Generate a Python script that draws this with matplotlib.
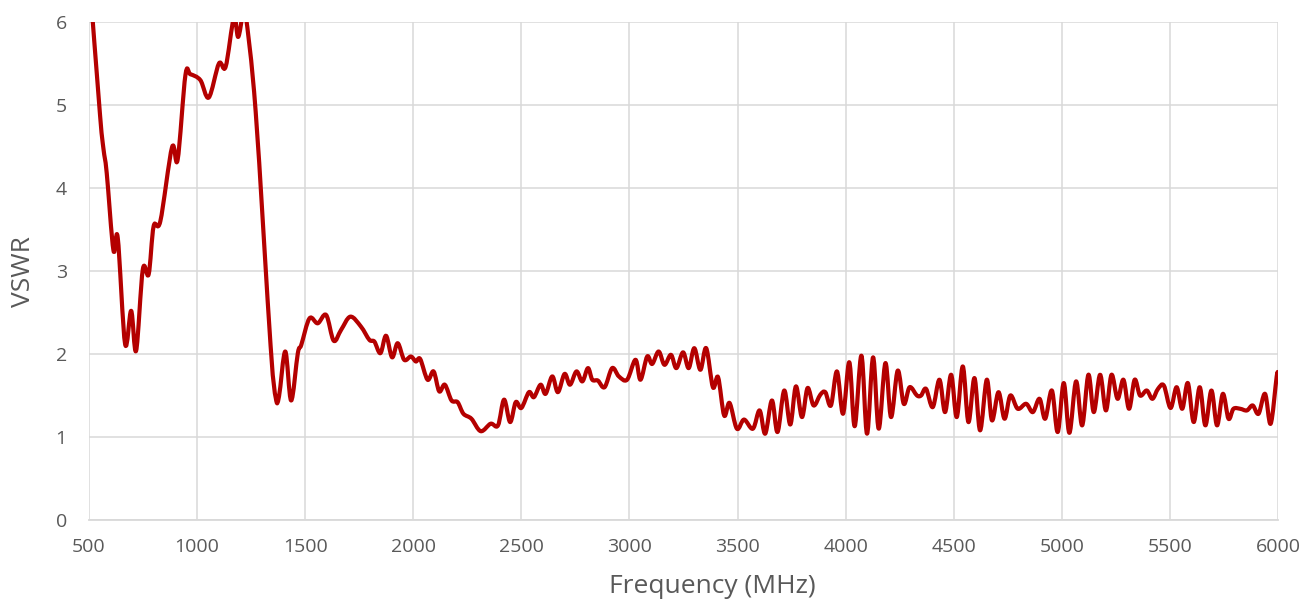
import numpy as np
import matplotlib
matplotlib.use("Agg")
import matplotlib.pyplot as plt
from matplotlib.path import Path
from matplotlib.patches import PathPatch

plt.rcParams['font.family'] = ['Open Sans', 'DejaVu Sans']

# Measured VSWR of the antenna over frequency
freq_mhz = [
    500, 551, 567, 582, 613, 633, 667, 695, 718, 749, 776, 799, 830, 884, 910,
    946, 969, 1015, 1054, 1101, 1132, 1170, 1190, 1212, 1224, 1271, 1340, 1364,
    1379, 1408, 1435, 1466, 1482, 1520, 1558, 1597, 1632, 1666, 1709, 1758,
    1797, 1820, 1848, 1874, 1902, 1928, 1958, 1989, 2012, 2032, 2066, 2094,
    2120, 2146, 2177, 2205, 2232, 2269, 2312, 2358, 2392, 2420, 2448, 2474,
    2500, 2535, 2558, 2589, 2612, 2643, 2669, 2700, 2725, 2755, 2782, 2808,
    2828, 2854, 2885, 2920, 2951, 2989, 3028, 3051, 3082, 3105, 3135, 3162,
    3192, 3217, 3248, 3274, 3300, 3328, 3355, 3386, 3410, 3438, 3463, 3497,
    3530, 3571, 3602, 3628, 3659, 3685, 3716, 3744, 3770, 3798, 3824, 3852,
    3883, 3906, 3932, 3960, 3988, 4017, 4042, 4073, 4099, 4127, 4153, 4184,
    4210, 4241, 4269, 4296, 4330, 4349, 4372, 4403, 4434, 4460, 4488, 4514,
    4542, 4568, 4596, 4622, 4653, 4677, 4707, 4735, 4762, 4796, 4835, 4866,
    4897, 4923, 4954, 4981, 5009, 5035, 5066, 5094, 5123, 5148, 5177, 5204,
    5230, 5258, 5285, 5311, 5337, 5362, 5393, 5419, 5445, 5472, 5503, 5531,
    5557, 5583, 5610, 5638, 5664, 5692, 5718, 5745, 5771, 5794, 5825, 5856,
    5883, 5910, 5940, 5966, 5994, 6000,
]
vswr = [
    6.6, 4.88, 4.47, 4.18, 3.25, 3.40, 2.12, 2.52, 2.04, 3.02, 2.96, 3.54, 3.60,
    4.49, 4.34, 5.36, 5.37, 5.30, 5.09, 5.50, 5.46, 6.05, 5.82, 6.1, 6.1, 4.92,
    2.1, 1.47, 1.49, 2.03, 1.44, 2.01, 2.11, 2.43, 2.37, 2.47, 2.16, 2.29, 2.45,
    2.33, 2.17, 2.15, 2.01, 2.22, 1.96, 2.13, 1.93, 1.97, 1.91, 1.94, 1.69,
    1.79, 1.55, 1.63, 1.44, 1.42, 1.28, 1.22, 1.07, 1.16, 1.14, 1.45, 1.18,
    1.42, 1.35, 1.54, 1.48, 1.63, 1.52, 1.73, 1.54, 1.76, 1.63, 1.79, 1.67,
    1.83, 1.69, 1.68, 1.60, 1.83, 1.73, 1.69, 1.93, 1.69, 1.97, 1.88, 2.03,
    1.87, 1.99, 1.83, 2.02, 1.83, 2.07, 1.81, 2.07, 1.60, 1.72, 1.26, 1.41,
    1.10, 1.21, 1.10, 1.32, 1.04, 1.44, 1.06, 1.56, 1.15, 1.61, 1.24, 1.59,
    1.38, 1.51, 1.54, 1.38, 1.79, 1.28, 1.90, 1.13, 1.98, 1.04, 1.96, 1.10,
    1.89, 1.24, 1.80, 1.40, 1.60, 1.50, 1.50, 1.58, 1.36, 1.69, 1.30, 1.75,
    1.24, 1.85, 1.18, 1.71, 1.08, 1.69, 1.20, 1.54, 1.22, 1.50, 1.34, 1.40,
    1.30, 1.46, 1.22, 1.56, 1.06, 1.65, 1.05, 1.67, 1.14, 1.75, 1.30, 1.75,
    1.32, 1.75, 1.46, 1.69, 1.34, 1.69, 1.50, 1.56, 1.46, 1.58, 1.62, 1.35,
    1.60, 1.34, 1.65, 1.18, 1.60, 1.14, 1.56, 1.14, 1.52, 1.22, 1.34, 1.34,
    1.32, 1.38, 1.28, 1.52, 1.16, 1.73, 1.76,
]

x_ticks = [500, 1000, 1500, 2000, 2500, 3000, 3500, 4000, 4500, 5000, 5500, 6000]
y_ticks = [0, 1, 2, 3, 4, 5, 6]

LINE = '#B40000'
GRID = '#D9D9D9'
TEXT = '#595959'


def smooth_path(xs, ys):
    """Cubic Bezier path through the points (Catmull-Rom style smoothing)."""
    pts = np.column_stack([xs, ys]).astype(float)
    n = len(pts)
    verts = [pts[0]]
    codes = [Path.MOVETO]
    for i in range(n - 1):
        p0 = pts[i - 1] if i > 0 else pts[i]
        p1 = pts[i]
        p2 = pts[i + 1]
        p3 = pts[i + 2] if i + 2 < n else pts[i + 1]
        c1 = p1 + (p2 - p0) / 6.0
        c2 = p2 - (p3 - p1) / 6.0
        verts.extend([c1, c2, p2])
        codes.extend([Path.CURVE4] * 3)
    return Path(verts, codes)


W, H = 1304, 601
fig = plt.figure(figsize=(W / 100, H / 100), dpi=100)
fig.patch.set_facecolor('white')
ax = fig.add_axes([89 / W, (H - 520) / H, (1278 - 89) / W, (520 - 22) / H])

ax.set_xlim(500, 6000)
ax.set_ylim(0, 6)
ax.set_xticks(x_ticks)
ax.set_yticks(y_ticks)
ax.grid(True, color=GRID, linewidth=1.1)
ax.set_axisbelow(True)
for side in ('top', 'right', 'left'):
    ax.spines[side].set_visible(False)
ax.spines['bottom'].set_color(GRID)
ax.spines['bottom'].set_linewidth(1.3)
ax.tick_params(axis='both', length=0, labelsize=14, labelcolor=TEXT)
ax.tick_params(axis='x', pad=13)
ax.tick_params(axis='y', pad=16)

patch = PathPatch(smooth_path(freq_mhz, vswr), facecolor='none',
                  edgecolor=LINE, linewidth=3.0, capstyle='round',
                  joinstyle='round', transform=ax.transData)
ax.add_patch(patch)

fig.text(712 / W, 1 - 593 / H, 'Frequency (MHz)', ha='center', va='baseline',
         fontsize=19, color=TEXT)
fig.text(24 / W, 1 - 272 / H, 'VSWR', ha='center', va='center',
         rotation=90, fontsize=19, color=TEXT)

fig.savefig('out.png', dpi=100, facecolor='white')
